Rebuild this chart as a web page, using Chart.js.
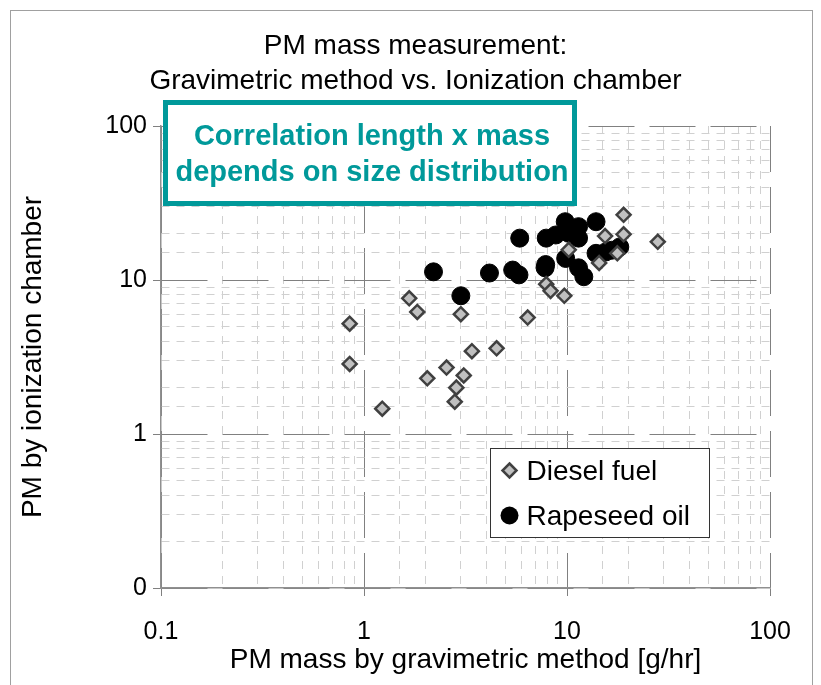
<!DOCTYPE html>
<html>
<head>
<meta charset="utf-8">
<script src="https://cdn.jsdelivr.net/npm/chart.js@4.4.1/dist/chart.umd.min.js"></script>
<style>
  html, body { margin: 0; padding: 0; background: #fff; }
</style>
</head>
<body>
<canvas id="myChart" width="821" height="685"></canvas>
<script>
const graph = document.getElementById('myChart')

// values (g/hr vs ionization chamber)
const dieselX = [0.85, 0.85, 1.23, 1.67, 1.83, 3.0, 2.55, 2.05, 3.1, 2.85, 2.8, 3.4, 4.5, 6.4, 7.9, 8.3, 9.7, 19, 19, 15.4, 28, 17.7, 14.4, 10.2]
const dieselY = [5.2, 2.85, 1.46, 7.6, 6.2, 6.0, 2.7, 2.3, 2.4, 2.0, 1.62, 3.45, 3.6, 5.7, 9.4, 8.5, 7.9, 26.5, 19.8, 19.3, 17.7, 14.9, 12.9, 15.7]
const rapeX = [2.2, 3.0, 4.15, 5.4, 5.8, 5.85, 7.9, 7.85, 9.8, 11.4, 13.9, 10.2, 11.4, 9.85, 11.4, 12.1, 13.9, 15.5, 18.2, 8.8, 16.6, 7.8]
const rapeY = [11.3, 7.9, 11.1, 11.6, 10.8, 18.7, 18.7, 12.6, 23.9, 22.2, 23.9, 20.1, 18.7, 13.8, 12.0, 10.5, 14.9, 15.2, 16.4, 19.6, 15.6, 12.0]

const xTicks = [0.1, 1, 10, 100]
const xTickLabels = ['0.1', '1', '10', '100']
const yTicks = [0.1, 1, 10, 100]
const yTickLabels = ['0', '1', '10', '100']

const seriesNames = ['Diesel fuel', 'Rapeseed oil']
const titleLines = ['PM mass measurement:', 'Gravimetric method vs. Ionization chamber']
const noteLines = ['Correlation length x mass', 'depends on size distribution']

const FONT = "'Liberation Sans', Arial, sans-serif"
const TEAL = '#00999a'

const toPoints = (xs, ys) => xs.map((x, i) => ({ x: x, y: ys[i] }))

const labelFor = (list, labels) => (v) => {
    const i = list.findIndex(t => Math.abs(t - v) < 1e-9)
    return i >= 0 ? labels[i] : ''
}

const gridColor = (c) => (c.tick && c.tick.major) ? '#808080' : '#d0d0d0'
const gridDash = (c) => (c.tick && c.tick.major) ? [46, 15] : [8, 7]
const tickColor = (c) => (c.tick && c.tick.major) ? '#808080' : 'rgba(0,0,0,0)'

const extras = {
    id: 'extras',
    beforeDraw(chart) {
        const ctx = chart.ctx
        ctx.save()
        ctx.strokeStyle = '#a0a0a0'
        ctx.lineWidth = 1
        ctx.strokeRect(10.5, 10.5, 802, 700)
        ctx.restore()
    },
    afterDraw(chart) {
        const ctx = chart.ctx
        const area = chart.chartArea
        ctx.save()
        // note box
        const bx = area.left + 4.5, by = area.top - 23.5, bw = 409, bh = 101
        ctx.fillStyle = '#fff'
        ctx.fillRect(bx, by, bw, bh)
        ctx.strokeStyle = TEAL
        ctx.lineWidth = 5
        ctx.strokeRect(bx, by, bw, bh)
        ctx.fillStyle = TEAL
        ctx.font = 'bold 29px ' + FONT
        ctx.textAlign = 'center'
        ctx.textBaseline = 'middle'
        ctx.fillText(noteLines[0], bx + bw / 2 + 2, by + 34)
        ctx.fillText(noteLines[1], bx + bw / 2 + 2, by + 70)

        // legend
        const lx = 490.5, ly = 448.5, lw = 219, lh = 89
        ctx.fillStyle = '#fff'
        ctx.fillRect(lx, ly, lw, lh)
        ctx.strokeStyle = '#333'
        ctx.lineWidth = 1
        ctx.strokeRect(lx, ly, lw, lh)
        const ds = chart.data.datasets
        // diamond
        let mx = lx + 19, my = ly + 22
        ctx.beginPath()
        ctx.moveTo(mx, my - 7); ctx.lineTo(mx + 7, my); ctx.lineTo(mx, my + 7); ctx.lineTo(mx - 7, my); ctx.closePath()
        ctx.fillStyle = ds[0].backgroundColor
        ctx.fill()
        ctx.strokeStyle = ds[0].borderColor
        ctx.lineWidth = 2.5
        ctx.stroke()
        // circle
        my = ly + 67
        ctx.beginPath()
        ctx.arc(mx, my, 9, 0, Math.PI * 2)
        ctx.fillStyle = ds[1].backgroundColor
        ctx.fill()
        ctx.fillStyle = '#000'
        ctx.font = '28px ' + FONT
        ctx.textAlign = 'left'
        ctx.textBaseline = 'middle'
        ctx.fillText(ds[0].label, lx + 36, ly + 24)
        ctx.fillText(ds[1].label, lx + 36, ly + 69)
        ctx.restore()
    }
}

const data = {
    datasets: [
        {
            label: seriesNames[0],
            data: toPoints(dieselX, dieselY),
            pointStyle: 'rectRot',
            pointRadius: 7,
            backgroundColor: '#c0c0c0',
            borderColor: '#404040',
            borderWidth: 2.5
        },
        {
            label: seriesNames[1],
            data: toPoints(rapeX, rapeY),
            pointStyle: 'circle',
            pointRadius: 9,
            backgroundColor: '#000',
            borderColor: '#000',
            borderWidth: 1
        }
    ]
}

const config = {
    type: 'scatter',
    data,
    plugins: [extras],
    options: {
        responsive: false,
        animation: false,
        devicePixelRatio: 1,
        layout: { padding: { left: 10, right: 0, top: 0, bottom: 0 } },
        plugins: {
            legend: { display: false },
            tooltip: { enabled: false },
            title: {
                display: true,
                text: titleLines,
                color: '#000',
                font: { family: FONT, size: 28, weight: 'normal', lineHeight: 1.25 },
                padding: { top: 29, bottom: 27 }
            }
        },
        scales: {
            x: {
                type: 'logarithmic',
                min: 0.1,
                max: 100,
                afterFit: (s) => { s.height = 97; s.paddingRight = 51 },
                grid: { color: gridColor, tickColor: tickColor, tickLength: 8, lineWidth: 1 },
                border: { color: '#909090', width: 1.5, dash: gridDash },
                ticks: {
                    autoSkip: false,
                    maxRotation: 0,
                    padding: 21,
                    color: '#000',
                    font: { family: FONT, size: 25 },
                    callback: labelFor(xTicks, xTickLabels)
                },
                title: {
                    display: true,
                    text: 'PM mass by gravimetric method [g/hr]',
                    color: '#000',
                    font: { family: FONT, size: 28 },
                    padding: { top: 0, bottom: 8 }
                }
            },
            y: {
                type: 'logarithmic',
                min: 0.1,
                max: 100,
                afterFit: (s) => { s.width = 151 },
                grid: { color: gridColor, tickColor: tickColor, tickLength: 8, lineWidth: 1 },
                border: { color: '#909090', width: 1.5, dash: gridDash },
                ticks: {
                    autoSkip: false,
                    padding: 6,
                    color: '#000',
                    font: { family: FONT, size: 25 },
                    callback: labelFor(yTicks, yTickLabels)
                },
                title: {
                    display: true,
                    text: 'PM by ionization chamber',
                    color: '#000',
                    font: { family: FONT, size: 28 },
                    padding: { top: 6, bottom: 0 }
                }
            }
        }
    }
}

new Chart(graph, config)
</script>
</body>
</html>
